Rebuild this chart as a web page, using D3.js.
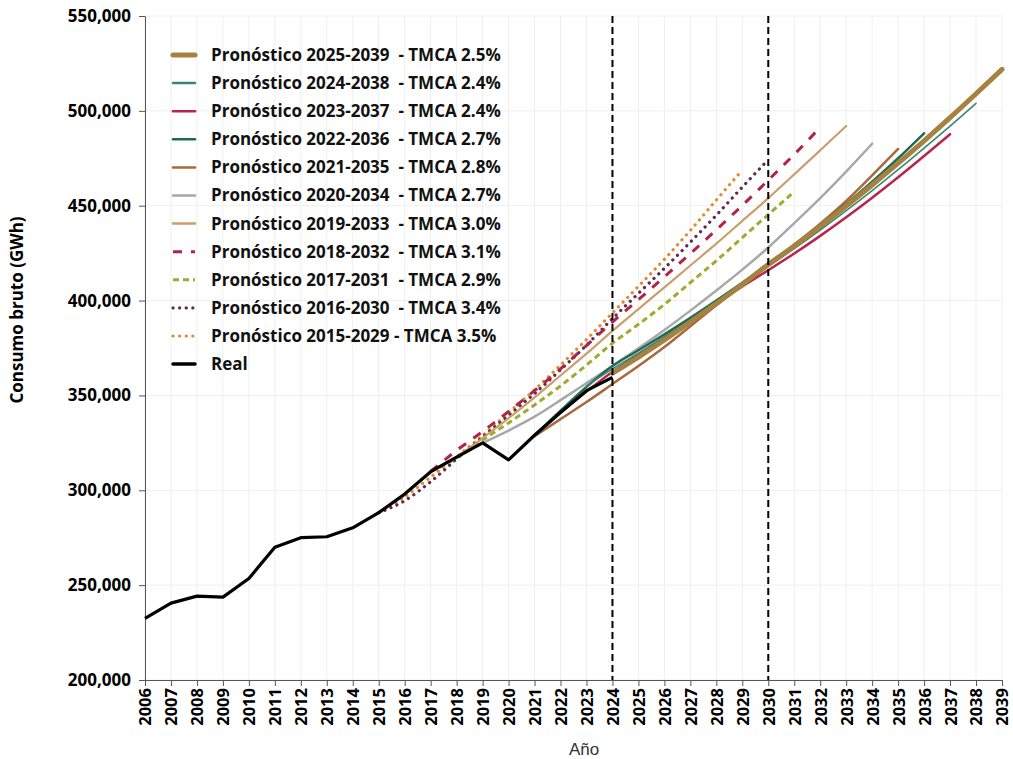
<!DOCTYPE html>
<html><head><meta charset="utf-8">
<script src="https://cdn.jsdelivr.net/npm/d3@7"></script>
<style>
html,body{margin:0;padding:0;background:#fff;}
svg text{font-family:"Open Sans",sans-serif;}
</style></head>
<body><svg id="c" width="1013" height="759"></svg>
<script>
const years = d3.range(2006, 2040);
const yTicks = [200000,250000,300000,350000,400000,450000,500000,550000];
const markerYears = [2024, 2030];

const realYears = [2006,2007,2008,2009,2010,2011,2012,2013,2014,2015,2016,2017,2018,2019,2020,2021,2022,2023,2024];
const realValues = [232500,240500,244200,243700,253500,270000,275000,275500,280200,288200,298000,309800,317500,325000,316000,329000,341000,352500,359500];

const f2015Years = [2015,2016,2017,2018,2019,2020,2021,2022,2023,2024,2025,2026,2027,2028,2029];
const f2015Values = [288200,296500,307000,317700,328800,341000,353000,366000,379500,393500,407500,421800,437000,453000,468800];

const f2016Years = [2015,2016,2017,2018,2019,2020,2021,2022,2023,2024,2025,2026,2027,2028,2029,2030];
const f2016Values = [288200,294500,304500,316500,328000,339500,351000,363500,376500,390500,403800,417000,430800,445000,459800,474300];

const f2017Years = [2017,2018,2019,2020,2021,2022,2023,2024,2025,2026,2027,2028,2029,2030,2031];
const f2017Values = [309800,317000,326500,335500,345000,355000,366000,377500,387500,398000,409500,421000,433200,445300,457400];

const f2018Years = [2017,2018,2019,2020,2021,2022,2023,2024,2025,2026,2027,2028,2029,2030,2031,2032];
const f2018Values = [310000,321000,331000,341500,352500,364000,376300,388700,400500,412500,424800,437300,450200,463500,477000,491300];

const f2019Years = [2018,2019,2020,2021,2022,2023,2024,2025,2026,2027,2028,2029,2030,2031,2032,2033];
const f2019Values = [317500,327500,338000,349000,360500,372000,384000,395500,407000,418500,430000,442000,454000,466500,479200,492000];

const f2020Years = [2019,2020,2021,2022,2023,2024,2025,2026,2027,2028,2029,2030,2031,2032,2033,2034];
const f2020Values = [325000,331500,338800,347500,356500,365500,374800,384500,394700,405300,416300,428000,440800,454000,468000,482700];

const f2021Years = [2021,2022,2023,2024,2025,2026,2027,2028,2029,2030,2031,2032,2033,2034,2035];
const f2021Values = [328500,337500,346500,356000,365500,375500,386500,397500,408500,419000,429500,440500,452500,466000,479900];

const f2022Years = [2021,2022,2023,2024,2025,2026,2027,2028,2029,2030,2031,2032,2033,2034,2035,2036];
const f2022Values = [329000,342000,354500,365500,373800,382200,390900,400000,409400,419000,429000,439600,450800,462600,475000,488200];

const f2023Years = [2022,2023,2024,2025,2026,2027,2028,2029,2030,2031,2032,2033,2034,2035,2036,2037];
const f2023Values = [341000,352000,362500,371500,380500,389500,398600,407500,416000,424800,434100,443900,454200,465000,476200,487700];

const f2024Years = [2023,2024,2025,2026,2027,2028,2029,2030,2031,2032,2033,2034,2035,2036,2037,2038];
const f2024Values = [355000,364000,372300,380900,389800,399000,408400,418000,427400,437200,447400,458000,469000,480400,492000,504000];

const f2025Years = [2024,2025,2026,2027,2028,2029,2030,2031,2032,2033,2034,2035,2036,2037,2038,2039];
const f2025Values = [361700,370200,379200,388700,398500,408500,419000,428800,439100,449800,460900,472400,484200,496400,509000,521900];

const labels = [
 "Pronóstico 2025-2039  - TMCA 2.5%",
 "Pronóstico 2024-2038  - TMCA 2.4%",
 "Pronóstico 2023-2037  - TMCA 2.4%",
 "Pronóstico 2022-2036  - TMCA 2.7%",
 "Pronóstico 2021-2035  - TMCA 2.8%",
 "Pronóstico 2020-2034  - TMCA 2.7%",
 "Pronóstico 2019-2033  - TMCA 3.0%",
 "Pronóstico 2018-2032  - TMCA 3.1%",
 "Pronóstico 2017-2031  - TMCA 2.9%",
 "Pronóstico 2016-2030  - TMCA 3.4%",
 "Pronóstico 2015-2029 - TMCA 3.5%",
 "Real"
];

const series = [
 {label:labels[0], years:f2025Years, values:f2025Values, color:"#a5823f", w:5, dash:null},
 {label:labels[1], years:f2024Years, values:f2024Values, color:"#3b8575", w:1.6, dash:null},
 {label:labels[2], years:f2023Years, values:f2023Values, color:"#b8244b", w:2.5, dash:null},
 {label:labels[3], years:f2022Years, values:f2022Values, color:"#1f6a53", w:2.5, dash:null},
 {label:labels[4], years:f2021Years, values:f2021Values, color:"#a86a3c", w:2.5, dash:null},
 {label:labels[5], years:f2020Years, values:f2020Values, color:"#a8a8a8", w:2.5, dash:null},
 {label:labels[6], years:f2019Years, values:f2019Values, color:"#c9a06c", w:2.2, dash:null},
 {label:labels[7], years:f2018Years, values:f2018Values, color:"#b0234a", w:3, dash:"9,9", cap:"butt"},
 {label:labels[8], years:f2017Years, values:f2017Values, color:"#9fab2f", w:3, dash:"6,4", cap:"butt"},
 {label:labels[9], years:f2016Years, values:f2016Values, color:"#5e2b4c", w:3.2, dash:"0.1,6.5", cap:"round"},
 {label:labels[10], years:f2015Years, values:f2015Values, color:"#e08a32", w:3.2, dash:"0.1,6.5", cap:"round"},
 {label:labels[11], years:realYears, values:realValues, color:"#000000", w:3.2, dash:null}
];

const svg = d3.select("#c");
const L=145, R=1002, T=16, B=680;
const x = d3.scaleLinear().domain([2006,2039]).range([L,R]);
const y = d3.scaleLinear().domain([200000,550000]).range([B,T]);

// grid
svg.append("g").selectAll("line").data(years).join("line")
  .attr("x1",d=>x(d)).attr("x2",d=>x(d)).attr("y1",T).attr("y2",B)
  .attr("stroke","#efefef").attr("stroke-width",1);
svg.append("g").selectAll("line").data(yTicks).join("line")
  .attr("x1",L).attr("x2",R).attr("y1",d=>y(d)).attr("y2",d=>y(d))
  .attr("stroke","#efefef").attr("stroke-width",1);

// axes
const xAxis = svg.append("g").attr("transform",`translate(0,${B})`)
  .call(d3.axisBottom(x).tickValues(years).tickFormat(d3.format("d")).tickSize(6).tickSizeOuter(0));
xAxis.select(".domain").attr("stroke","#555");
xAxis.selectAll(".tick line").attr("stroke","#555");
xAxis.selectAll("text").attr("transform","rotate(-90)").attr("text-anchor","end")
  .attr("x",-8).attr("y",0).attr("dy","0.36em")
  .style("font-size","16.5px").style("font-weight","700").attr("fill","#000");

const yAxis = svg.append("g").attr("transform",`translate(${L},0)`)
  .call(d3.axisLeft(y).tickValues(yTicks).tickFormat(d3.format(",")).tickSize(6).tickSizeOuter(0));
yAxis.select(".domain").attr("stroke","#555");
yAxis.selectAll(".tick line").attr("stroke","#555");
yAxis.selectAll("text").attr("x",-14)
  .style("font-size","17px").style("font-weight","700").attr("fill","#000");

// titles
svg.append("text").attr("x",584).attr("y",755).attr("text-anchor","middle")
  .style("font-family","'Liberation Sans',Arial,sans-serif").style("font-size","17px").attr("fill","#333").text("Año");
svg.append("text").attr("transform","translate(23,310) rotate(-90)").attr("text-anchor","middle")
  .style("font-size","17px").style("font-weight","700").attr("fill","#000").text("Consumo bruto (GWh)");

// lines
const line = d3.line().x(d=>x(d[0])).y(d=>y(d[1])).curve(d3.curveMonotoneX);
const drawOrder = series.slice().reverse();
drawOrder.forEach(s=>{
  if(s.label==="Real") return;
  svg.append("path").datum(s.years.map((yr,i)=>[yr,s.values[i]]))
    .attr("d",line).attr("fill","none").attr("stroke",s.color).attr("stroke-width",s.w)
    .attr("stroke-dasharray",s.dash).attr("stroke-linecap",s.cap||"round").attr("stroke-linejoin","round");
});
const realS = series[11];
svg.append("path").datum(realS.years.map((yr,i)=>[yr,realS.values[i]]))
  .attr("d",d3.line().x(d=>x(d[0])).y(d=>y(d[1]))).attr("fill","none").attr("stroke","#000")
  .attr("stroke-width",realS.w).attr("stroke-linejoin","round");

// vertical markers
svg.append("g").selectAll("line").data(markerYears).join("line")
  .attr("x1",d=>x(d)).attr("x2",d=>x(d)).attr("y1",T).attr("y2",B)
  .attr("stroke","#000").attr("stroke-width",2).attr("stroke-dasharray","7,4");

// legend
const lg = svg.append("g");
series.forEach((s,i)=>{
  const yy = 55 + i*28.1;
  lg.append("line").attr("x1",173).attr("x2",195).attr("y1",yy).attr("y2",yy)
    .attr("stroke",s.color).attr("stroke-width",s.label==="Real"?3.5:(s.w>4?5:Math.max(s.w,2.5)))
    .attr("stroke-dasharray",s.dash).attr("stroke-linecap",s.cap||"round");
  lg.append("text").attr("x",211).attr("y",yy).attr("dy","0.35em")
    .style("font-size","17px").style("font-weight","700").style("white-space","pre")
    .attr("fill","#111").text(s.label);
});
</script></body></html>
